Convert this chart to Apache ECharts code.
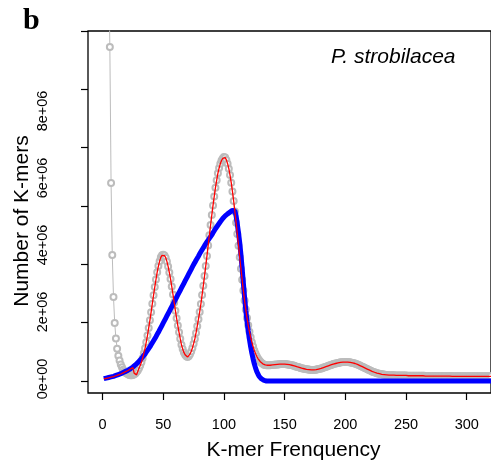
<!DOCTYPE html>
<html><head><meta charset="utf-8">
<script src="https://cdn.jsdelivr.net/npm/echarts@6/dist/echarts.min.js"></script>
<style>html,body{margin:0;padding:0;background:#fff}#c{width:491px;height:470px}</style>
</head><body><div id="c"></div>
<script>
const panelLabel = 'b';
const speciesName = 'P. strobilacea';
const xAxisTitle = 'K-mer Frenquency';
const yAxisTitle = 'Number of K-mers';
const xTicks = [0, 50, 100, 150, 200, 250, 300];
const yTicks = [0, 2e6, 4e6, 6e6, 8e6, 10e6, 12e6];
const yTickLabels = [0, 2e6, 4e6, 6e6, 8e6];
const firstFreq = 1;

// observed k-mer counts (millions), frequency 1,2,3,...
const kmerCountsM = [
 60,38,26,19,14.5, 11.45,6.79,4.32,2.88,1.99,
 1.46,1.11,0.87,0.70,0.57, 0.47,0.39,0.33,0.28,0.26,
 0.23,0.21,0.20,0.20,0.21, 0.23,0.26,0.31,0.36,0.44,
 0.53,0.64,0.78,0.95,1.12, 1.33,1.56,1.82,2.08,2.36,
 2.65,2.94,3.22,3.48,3.73, 3.94,4.11,4.24,4.31,4.33,
 4.30,4.23,4.10,3.93,3.72, 3.50,3.24,2.97,2.69,2.41,
 2.15,1.90,1.67,1.45,1.24, 1.10,0.98,0.90,0.85,0.82,
 0.85,0.92,1.01,1.13,1.28, 1.44,1.65,1.88,2.12,2.37,
 2.64,2.95,3.27,3.60,3.94, 4.29,4.65,5.00,5.35,5.69,
 6.02,6.33,6.63,6.88,7.12, 7.30,7.45,7.56,7.63,7.68,
 7.66,7.58,7.45,7.28,7.06, 6.80,6.50,6.17,5.81,5.43,
 5.04,4.64,4.24,3.85,3.47, 3.10,2.76,2.45,2.16,1.91,
 1.69,1.50,1.33,1.18,1.05, 0.94,0.85,0.77,0.71,0.66,
 0.62,0.59,0.56,0.55,0.54, 0.54,0.54,0.54,0.55,0.55,
 0.56,0.56,0.57,0.57,0.57, 0.58,0.58,0.58,0.58,0.58,
 0.58,0.57,0.57,0.56,0.55, 0.54,0.53,0.52,0.50,0.49,
 0.48,0.47,0.45,0.44,0.43, 0.42,0.41,0.40,0.40,0.39,
 0.39,0.38,0.38,0.38,0.39, 0.39,0.40,0.41,0.42,0.43,
 0.44,0.46,0.47,0.49,0.50, 0.52,0.53,0.55,0.56,0.58,
 0.59,0.60,0.61,0.62,0.63, 0.64,0.64,0.65,0.65,0.65,
 0.65,0.65,0.64,0.64,0.63, 0.62,0.61,0.60,0.58,0.57,
 0.55,0.53,0.51,0.49,0.47, 0.45,0.43,0.41,0.39,0.37,
 0.35,0.33,0.31,0.30,0.28, 0.27,0.26,0.25,0.24,0.23,
 0.22,0.22,0.21,0.21,0.20, 0.20,0.20,0.20,0.20,0.20,
 0.19,0.19,0.19,0.19,0.19, 0.19,0.19,0.19,0.19,0.19,
 0.18,0.18,0.18,0.18,0.18, 0.18,0.18,0.18,0.18,0.18,
 0.18,0.18,0.18,0.18,0.18, 0.17,0.17,0.17,0.17,0.17,
 0.17,0.17,0.17,0.17,0.17, 0.17,0.17,0.17,0.17,0.17,
 0.17,0.17,0.17,0.17,0.17, 0.17,0.17,0.16,0.16,0.16,
 0.16,0.16,0.16,0.16,0.16, 0.16,0.16,0.16,0.16,0.16,
 0.16,0.16,0.16,0.16,0.16, 0.16,0.16,0.16,0.16,0.16,
 0.16,0.16,0.16,0.16,0.16, 0.16,0.16,0.16,0.16,0.16
];

// fitted model (red), low-frequency part, frequency 1..29 (millions);
// from frequency 30 on the fit coincides with the observed counts
const fitHeadM = [
 0.07,0.08,0.09,0.10,0.11, 0.12,0.13,0.14,0.15,0.16,
 0.18,0.19,0.21,0.22,0.24, 0.26,0.28,0.30,0.32,0.34,
 0.36,0.38,0.41,0.43,0.46, 0.27,0.22,0.21,0.27
];

// second model (blue), frequency 1,2,3,... (millions)
const blueFitM = [
 0.08,0.09,0.10,0.11,0.12,0.13,0.14,0.15,0.16,0.17,
 0.19,0.20,0.22,0.23,0.25,0.27,0.29,0.31,0.33,0.35,
 0.37,0.40,0.42,0.45,0.48,0.51,0.55,0.59,0.63,0.67,
 0.72,0.77,0.82,0.87,0.93,0.99,1.05,1.11,1.17,1.24,
 1.31,1.38,1.45,1.52,1.60,1.67,1.75,1.83,1.91,1.99,
 2.07,2.15,2.23,2.31,2.39,2.47,2.55,2.63,2.71,2.79,
 2.87,2.95,3.03,3.11,3.19,3.27,3.35,3.43,3.51,3.59,
 3.67,3.75,3.83,3.91,3.99,4.06,4.14,4.21,4.28,4.36,
 4.43,4.50,4.57,4.64,4.70,4.77,4.83,4.89,4.95,5.01,
 5.08,5.15,5.22,5.28,5.34,5.40,5.46,5.52,5.57,5.62,
 5.66,5.70,5.73,5.76,5.79,5.82,5.85,5.87,5.83,5.66,
 5.38,5.08,4.74,4.33,3.85,3.35,2.87,2.42,2.04,1.72,
 1.43,1.17,0.95,0.76,0.59,0.45,0.33,0.24,0.16,0.11,
 0.07,0.04,0.02,0.01,0,0,0,0,0,0,
 0,0,0,0,0,0,0,0,0,0, 0,0,0,0,0,0,0,0,0,0,
 0,0,0,0,0,0,0,0,0,0, 0,0,0,0,0,0,0,0,0,0,
 0,0,0,0,0,0,0,0,0,0, 0,0,0,0,0,0,0,0,0,0,
 0,0,0,0,0,0,0,0,0,0, 0,0,0,0,0,0,0,0,0,0,
 0,0,0,0,0,0,0,0,0,0, 0,0,0,0,0,0,0,0,0,0,
 0,0,0,0,0,0,0,0,0,0, 0,0,0,0,0,0,0,0,0,0,
 0,0,0,0,0,0,0,0,0,0, 0,0,0,0,0,0,0,0,0,0,
 0,0,0,0,0,0,0,0,0,0, 0,0,0,0,0,0,0,0,0,0,
 0,0,0,0,0,0,0,0,0,0, 0,0,0,0,0,0,0,0,0,0
];

const MILLION = 1e6;
const toPairs = (arr, start) => arr.map((v, i) => [start + i, v * MILLION]);
const grayPairs = toPairs(kmerCountsM, firstFreq);
const redPairs = toPairs(fitHeadM, firstFreq).concat(grayPairs.slice(fitHeadM.length));
const bluePairs = toPairs(blueFitM, firstFreq);

function sci(v) {
  if (v === 0) return '0e+00';
  const e = Math.floor(Math.log10(Math.abs(v)));
  const m = Math.round(v / Math.pow(10, e));
  return m + 'e+' + String(e).padStart(2, '0');
}

const FONT = 'Liberation Sans, Arial, Helvetica, sans-serif';
const GRAY = '#bcbcbc';
const chart = echarts.init(document.getElementById('c'), null, {renderer: 'canvas'});
chart.setOption({
  animation: false,
  backgroundColor: '#fff',
  title: [
    {text: panelLabel, left: 23, top: 6, padding: 0,
     textStyle: {fontFamily: 'Liberation Serif, Times New Roman, serif', fontWeight: 'bold', fontSize: 30, color: '#000'}},
    {text: speciesName, left: 331, top: 47, padding: 0,
     textStyle: {fontFamily: FONT, fontStyle: 'italic', fontWeight: 'normal', fontSize: 21, color: '#000'}}
  ],
  grid: {left: 88, top: 31, right: -13.3, bottom: 77, show: true, borderColor: '#000', borderWidth: 1.3, containLabel: false},
  xAxis: {
    type: 'value', min: -12, max: 320,
    axisLine: {show: false, onZero: false},
    splitLine: {show: false},
    axisTick: {show: true, length: 7, customValues: xTicks, lineStyle: {color: '#000', width: 1.2}},
    axisLabel: {customValues: xTicks, margin: 24, fontSize: 14.5, color: '#000', fontFamily: FONT},
    name: xAxisTitle, nameLocation: 'middle', nameGap: 47,
    nameTextStyle: {fontSize: 21, color: '#000', fontFamily: FONT, padding: [0, 0, 0, 8]}
  },
  yAxis: [
    {
      type: 'value', min: -0.4114e6, max: 12e6,
      axisLine: {show: false, onZero: false},
      splitLine: {show: false},
      axisTick: {show: true, length: 7, customValues: yTicks, lineStyle: {color: '#000', width: 1.2}},
      axisLabel: {show: false},
      name: yAxisTitle, nameLocation: 'middle', nameGap: 55,
      nameTextStyle: {fontSize: 21, color: '#000', fontFamily: FONT, padding: [0, 18, 0, 0]}
    },
    {
      type: 'value', min: -0.418e6, max: 10.388e6, position: 'left',
      axisLine: {show: false, onZero: false},
      splitLine: {show: false},
      axisTick: {show: false},
      axisLabel: {customValues: yTickLabels, rotate: 90, margin: 38, fontSize: 14.5, color: '#000', fontFamily: FONT, formatter: sci}
    }
  ],
  series: [
    {type: 'line', name: 'observed', data: grayPairs, yAxisIndex: 0, z: 1, silent: true,
     symbol: 'emptyCircle', symbolSize: 6, showAllSymbol: true,
     itemStyle: {color: GRAY, borderColor: GRAY, borderWidth: 1},
     lineStyle: {color: GRAY, width: 1}},
    {type: 'line', name: 'model2', data: bluePairs, yAxisIndex: 0, z: 2, silent: true,
     symbol: 'none', lineStyle: {color: '#0000ff', width: 5}},
    {type: 'line', name: 'fit', data: redPairs, yAxisIndex: 0, z: 3, silent: true,
     symbol: 'none', lineStyle: {color: '#ff0000', width: 1.3}}
  ]
});
</script>
</body></html>
